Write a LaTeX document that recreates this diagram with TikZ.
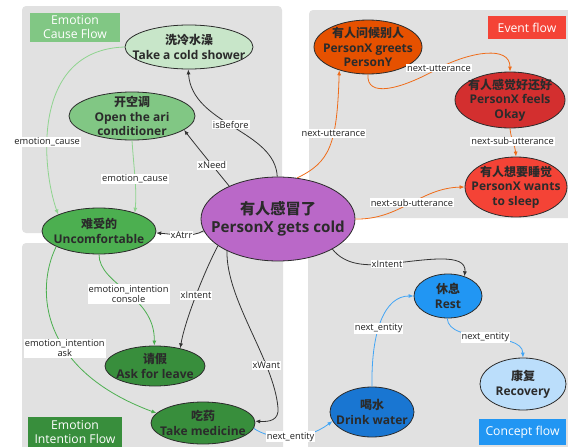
\documentclass[tikz,border=0pt]{standalone}
\usepackage{fontspec}
\setmainfont{Open Sans}
\newfontfamily\cjk{Noto Sans CJK SC}
\usetikzlibrary{shapes.geometric,arrows.meta}
\definecolor{panelgrey}{HTML}{E1E1E1}
\definecolor{cgA}{HTML}{C8E6C9}
\definecolor{cgB}{HTML}{81C784}
\definecolor{cgC}{HTML}{4CAF50}
\definecolor{cgD}{HTML}{388E3C}
\definecolor{cpur}{HTML}{BA68C8}
\definecolor{corg}{HTML}{E65100}
\definecolor{credA}{HTML}{D32F2F}
\definecolor{credB}{HTML}{F44336}
\definecolor{cbluA}{HTML}{2196F3}
\definecolor{cbluB}{HTML}{BBDEFB}
\definecolor{cbluC}{HTML}{1976D2}
\definecolor{txt}{HTML}{2B2B2B}
\definecolor{lbltxt}{HTML}{1E1E1E}
\definecolor{edgeblack}{HTML}{333333}
\definecolor{edgelg}{HTML}{8FD48F}
\definecolor{edgeg}{HTML}{4CAF50}
\definecolor{edgeor}{HTML}{EF6C1A}
\definecolor{edgebl}{HTML}{42A5F5}
\begin{document}
\begin{tikzpicture}[x=1pt,y=-1pt,
  panel/.style={fill=panelgrey, rounded corners=4pt},
  titlebox/.style={text=white, inner sep=0pt, align=center, font=\fontsize{12.2}{14}\selectfont},
  ell/.style={ellipse, draw=txt, line width=0.8pt, inner sep=0pt},
  ntext/.style={align=center, text=txt, font=\fontsize{12}{14.5}\selectfont\bfseries},
  bigtext/.style={align=center, text=txt, font=\fontsize{15.2}{18}\selectfont\bfseries},
  conn/.style={-{Latex[length=5pt,width=4pt]}, line width=0.8pt},
  lbl/.style={fill=white, inner sep=1pt, text=lbltxt, align=center, font=\fontsize{9.3}{10.5}\selectfont}
]
\useasboundingbox (0,0) rectangle (568,447);
\clip (0,0) rectangle (568,447);
% panels
\fill[panel] (22,6) rectangle (282,233);
\fill[panel] (309,10) rectangle (575,218);
\fill[panel] (22,243) rectangle (283,455);
\fill[panel] (308,243) rectangle (575,455);
% titles
\node[titlebox, fill=cgB, minimum width=90, minimum height=29] (t1) at (75,27.5) {Emotion\\Cause Flow};
\node[titlebox, fill=credB, minimum width=78, minimum height=23] (t2) at (527,27.5) {Event flow};
\node[titlebox, fill=cgD, minimum width=94, minimum height=31] (t3) at (75,432.5) {Emotion\\Intention Flow};
\node[titlebox, fill=cbluA, minimum width=87, minimum height=26] (t4) at (522.5,432) {Concept flow};
% nodes
\node[ell, fill=cgA, minimum width=128, minimum height=44,
  label={[ntext]center:{{\cjk\bfseries 洗冷水澡}\\Take a cold shower}}] (S) at (189,47) {};
\node[ell, fill=cgB, minimum width=126, minimum height=48,
  label={[ntext]center:{{\cjk\bfseries 开空调}\\Open the ari\\conditioner}}] (A) at (132,116) {};
\node[ell, fill=cgC, minimum width=114, minimum height=46,
  label={[ntext]center:{{\cjk\bfseries 难受的}\\Uncomfortable}}] (U) at (99,231) {};
\node[ell, fill=cpur, minimum width=154, minimum height=84,
  label={[bigtext]center:{{\cjk\bfseries 有人感冒了}\\PersonX gets cold}}] (C) at (278,219) {};
\node[ell, fill=corg, minimum width=108, minimum height=54,
  label={[ntext]center:{{\cjk\bfseries 有人问候别人}\\PersonX greets\\PersonY}}] (G) at (368,47) {};
\node[ell, fill=credA, minimum width=110, minimum height=56,
  label={[ntext]center:{{\cjk\bfseries 有人感觉好还好}\\PersonX feels\\Okay}}] (F) at (510,100) {};
\node[ell, fill=credB, minimum width=102, minimum height=60,
  label={[ntext]center:{{\cjk\bfseries 有人想要睡觉}\\PersonX wants\\to sleep}}] (W) at (516,187) {};
\node[ell, fill=cgD, minimum width=100, minimum height=40,
  label={[ntext]center:{{\cjk\bfseries 请假}\\Ask for leave}}] (L) at (155,366) {};
\node[ell, fill=cgD, minimum width=104, minimum height=42,
  label={[ntext]center:{{\cjk\bfseries 吃药}\\Take medicine}}] (M) at (203,423) {};
\node[ell, fill=cbluA, minimum width=68, minimum height=44,
  label={[ntext]center:{{\cjk\bfseries 休息}\\Rest}}] (R) at (448,296) {};
\node[ell, fill=cbluB, minimum width=86, minimum height=52,
  label={[ntext]center:{{\cjk\bfseries 康复}\\Recovery}}] (V) at (523,384) {};
\node[ell, fill=cbluC, minimum width=84, minimum height=50,
  label={[ntext]center:{{\cjk\bfseries 喝水}\\Drink water}}] (D) at (372,412) {};
% black edges
\draw[conn, edgeblack] (C.91) .. controls (275,130) and (192,125) .. node[lbl, pos=0.52] {isBefore} (S.268);
\draw[conn, edgeblack] (C.146) .. controls (212,165) and (198,148) .. node[lbl, pos=0.35] {xNeed} (A.345);
\draw[conn, edgeblack] (C.189) .. controls (192,238) and (172,234) .. node[lbl, pos=0.5] {xAtrr} (U.358);
\draw[conn, edgeblack] (C.204) .. controls (205,270) and (185,320) .. node[lbl, pos=0.5] {xIntent} (L.35);
\draw[conn, edgeblack] (C.212) .. controls (226,300) and (274,360) .. node[lbl, pos=0.72] {xWant} (278,408) .. controls (279,420) and (270,422) .. (M.2);
\draw[conn, edgeblack] (C.331) .. controls (345,265) and (365,266) .. (387,264) node[lbl] {xIntent} .. controls (425,260) and (467,252) .. (R.50);
% orange edges
\draw[conn, edgeor] (C.65) .. controls (330,162) and (337,145) .. node[lbl, pos=0.62] {next-utterance} (G.219);
\draw[conn, edgeor] (G.270) .. controls (366,98) and (400,90) .. (439,68) node[lbl] {next-utterance} .. controls (470,52) and (510,45) .. (F.90);
\draw[conn, edgeor] (F.270) .. controls (511,140) and (515,145) .. node[lbl, pos=0.45] {next-sub-utterance} (W.90);
\draw[conn, edgeor] (C.0) .. controls (400,220) and (420,188) .. node[lbl, pos=0.52] {next-sub-utterance} (W.180);
% green edges
\draw[conn, edgelg] (S.180) .. controls (30,50) and (42,170) .. node[lbl, pos=0.62] {emotion\_cause} (U.158);
\draw[conn, edgelg] (A.270) .. controls (134,170) and (137,190) .. node[lbl, pos=0.5] {emotion\_cause} (U.27);
\draw[conn, edgeg] (U.270) .. controls (99,285) and (155,295) .. node[lbl, pos=0.52] {emotion\_intention\\console} (L.92);
\draw[conn, edgeg] (U.200) .. controls (35,290) and (40,370) .. node[lbl, pos=0.6] {emotion\_intention\\ask} (M.168);
% blue edges
\draw[conn, edgebl] (M.354) .. controls (270,440) and (305,442) .. node[lbl, pos=0.52] {next\_entity} (D.193);
\draw[conn, edgebl] (D.90) .. controls (371,330) and (385,296) .. node[lbl, pos=0.42] {next\_entity} (R.180);
\draw[conn, edgebl] (R.268) .. controls (449,345) and (522,330) .. node[lbl, pos=0.5] {next\_entity} (V.90);
\end{tikzpicture}
\end{document}
